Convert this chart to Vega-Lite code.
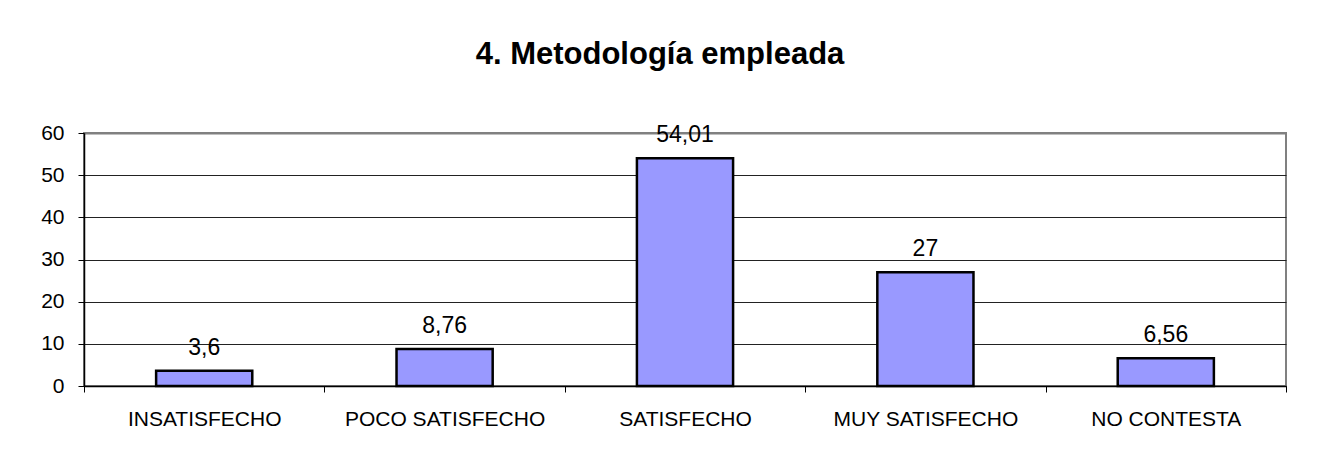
{
  "$schema": "https://vega.github.io/schema/vega-lite/v6.json",
  "autosize": "none",
  "width": 1202,
  "height": 253,
  "padding": {"left": 84, "top": 133, "right": 36, "bottom": 74},
  "background": "white",
  "config": {
    "locale": {"number": {"decimal": ",", "thousands": ".", "grouping": [3], "currency": ["", " €"]}},
    "font": "Liberation Sans",
    "view": {"stroke": "#808080", "strokeWidth": 2}
  },
  "title": {
    "text": "4. Metodología empleada",
    "font": "Liberation Sans",
    "fontSize": 31,
    "fontWeight": "bold",
    "color": "black",
    "anchor": "middle",
    "dx": -25,
    "offset": 51
  },
  "data": {
    "values": [
      {"categoria": "INSATISFECHO", "valor": 3.6},
      {"categoria": "POCO SATISFECHO", "valor": 8.76},
      {"categoria": "SATISFECHO", "valor": 54.01},
      {"categoria": "MUY SATISFECHO", "valor": 27},
      {"categoria": "NO CONTESTA", "valor": 6.56}
    ]
  },
  "layer": [
    {
      "mark": {"type": "bar", "width": {"band": 0.4}, "color": "#9999FF", "stroke": "black", "strokeWidth": 2.5},
      "encoding": {
        "x": {
          "field": "categoria",
          "type": "nominal",
          "sort": null,
          "scale": {"paddingInner": 0, "paddingOuter": 0},
          "axis": {
            "title": null,
            "labelAngle": 0,
            "labelFontSize": 21,
            "labelLimit": 400,
            "labelColor": "black",
            "labelPadding": 16,
            "tickBand": "extent",
            "tickSize": 6,
            "tickColor": "black",
            "domainColor": "black",
            "domainWidth": 1.5,
            "grid": false
          }
        },
        "y": {
          "field": "valor",
          "type": "quantitative",
          "scale": {"domain": [0, 60], "nice": false},
          "axis": {
            "title": null,
            "values": [0, 10, 20, 30, 40, 50, 60],
            "format": "d",
            "labelFontSize": 21,
            "labelColor": "black",
            "labelPadding": 14,
            "tickSize": 6,
            "tickColor": "black",
            "domainColor": "black",
            "domainWidth": 1.5,
            "grid": true,
            "gridColor": {"condition": {"test": "datum.value == 60", "value": "#808080"}, "value": "#222222"},
            "gridWidth": {"condition": {"test": "datum.value == 60", "value": 2}, "value": 1},
            "gridOpacity": 1
          }
        }
      }
    },
    {
      "mark": {"type": "text", "dy": -16, "baseline": "alphabetic", "fontSize": 23, "color": "black"},
      "encoding": {
        "x": {"field": "categoria", "type": "nominal", "sort": null},
        "y": {"field": "valor", "type": "quantitative"},
        "text": {"field": "valor", "type": "quantitative", "format": "~g"}
      }
    }
  ]
}
